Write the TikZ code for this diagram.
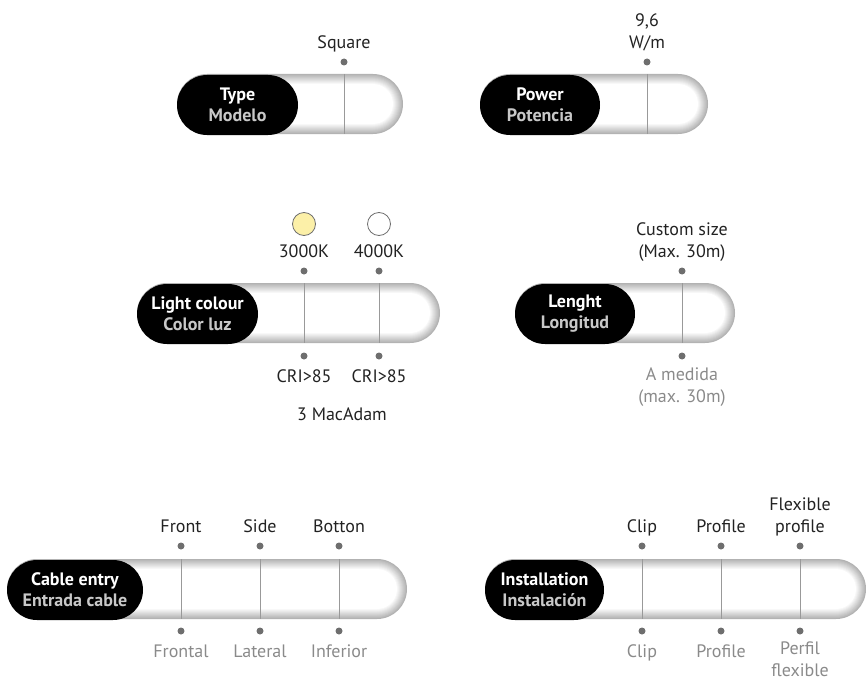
\documentclass[tikz,border=0pt]{standalone}
\usepackage{fontspec}
\setmainfont{PT Sans}
\definecolor{pilltext}{HTML}{C8C8C8}
\definecolor{labeldark}{HTML}{222222}
\definecolor{labellight}{HTML}{8A8A8A}
\definecolor{dotgray}{HTML}{6E6E6E}
\definecolor{warm}{HTML}{FCF0A8}
% shaded tube: left x, right x, centre y
\newcommand{\tube}[3]{%
  \foreach \i [evaluate=\i as \g using 30-3*\i, evaluate=\i as \r using 30-\i] in {0,...,10}
    \fill[black!\g, rounded corners=\r pt] (#1+\i,#3-30+\i) rectangle (#2-\i,#3+30-\i);}
\begin{document}
\begin{tikzpicture}[x=1pt,y=-1pt,
  tag/.style={fill=black,rounded corners=30pt,minimum height=60pt,align=center,
    font=\bfseries\fontsize{18}{21}\selectfont,text=white,inner sep=0pt},
  upper/.style={anchor=south,align=center,inner sep=0pt,text=labeldark,
    font=\fontsize{18}{22}\selectfont,execute at end node=\strut},
  lower/.style={anchor=north,align=center,inner sep=0pt,text=labellight,
    font=\fontsize{18}{22}\selectfont,execute at begin node=\strut},
  divider/.style={gray!80,line width=0.8pt},
  dot/.style={fill=dotgray}]
\useasboundingbox (0,0) rectangle (866,682);

% Type
\tube{177}{403}{104}
\draw[divider] (344,74) -- (344,134);
\node[tag,minimum width=121pt] (type) at (237.5,105) {Type\\\textcolor{pilltext}{Modelo}};
\fill[dot] (344,62) circle (3.5);
\node[upper] (square) at (344,55.5) {Square};

% Power
\tube{480}{708}{104}
\draw[divider] (647,74) -- (647,134);
\node[tag,minimum width=120pt] (power) at (540,105) {Power\\\textcolor{pilltext}{Potencia}};
\fill[dot] (647,62) circle (3.5);
\node[upper] (watt) at (647,55.5) {9,6\\W/m};

% Light colour
\tube{137}{440}{313}
\foreach \x in {304,379}
  \draw[divider] (\x,283) -- (\x,343);
\node[tag,minimum width=121pt] (light) at (197.5,314) {Light colour\\\textcolor{pilltext}{Color luz}};
\foreach \x/\t in {304/3000K,379/4000K} {
  \fill[dot] (\x,271) circle (3.5);
  \fill[dot] (\x,356) circle (3.5);
  \node[upper] (cct\x) at (\x,264.5) {\t};
  \node[lower,text=labeldark] (cri\x) at (\x,367) {CRI>85};
}
\draw[dotgray,line width=0.8pt,fill=warm] (304,224) circle (11.5);
\draw[dotgray,line width=0.8pt,fill=white] (379,224) circle (11.5);
\node[text=labeldark,font=\fontsize{18}{22}\selectfont] (macadam) at (342,414) {3 MacAdam};

% Length
\tube{515}{735}{313}
\draw[divider] (682,283) -- (682,343);
\node[tag,minimum width=120pt] (length) at (575,314) {Lenght\\\textcolor{pilltext}{Longitud}};
\fill[dot] (682,271) circle (3.5);
\fill[dot] (682,356) circle (3.5);
\node[upper] (custom) at (682,264.5) {Custom size\\(Max. 30m)};
\node[lower] (medida) at (682,367) {A medida\\(max. 30m)};

% Cable entry
\tube{7}{407}{589}
\node[tag,minimum width=136pt] (cable) at (75,590) {Cable entry\\\textcolor{pilltext}{Entrada cable}};
\foreach \x/\a/\b in {181/Front/Frontal,260/Side/Lateral,339/Botton/Inferior} {
  \draw[divider] (\x,559) -- (\x,619);
  \fill[dot] (\x,546) circle (3.5);
  \fill[dot] (\x,631) circle (3.5);
  \node[upper] (en\x) at (\x,539.5) {\a};
  \node[lower] (es\x) at (\x,642) {\b};
}

% Installation
\tube{485}{866}{589}
\node[tag,minimum width=119pt] (install) at (544.5,590) {Installation\\\textcolor{pilltext}{Instalación}};
\foreach \x/\a/\b in {642/Clip/Clip,721/Profile/Profile,800/Flexible\\profile/Perfil\\flexible} {
  \draw[divider] (\x,559) -- (\x,619);
  \fill[dot] (\x,546) circle (3.5);
  \fill[dot] (\x,631) circle (3.5);
  \node[upper] (en\x) at (\x,539.5) {\a};
  \node[lower] (es\x) at (\x,642) {\b};
}

\end{tikzpicture}
\end{document}
